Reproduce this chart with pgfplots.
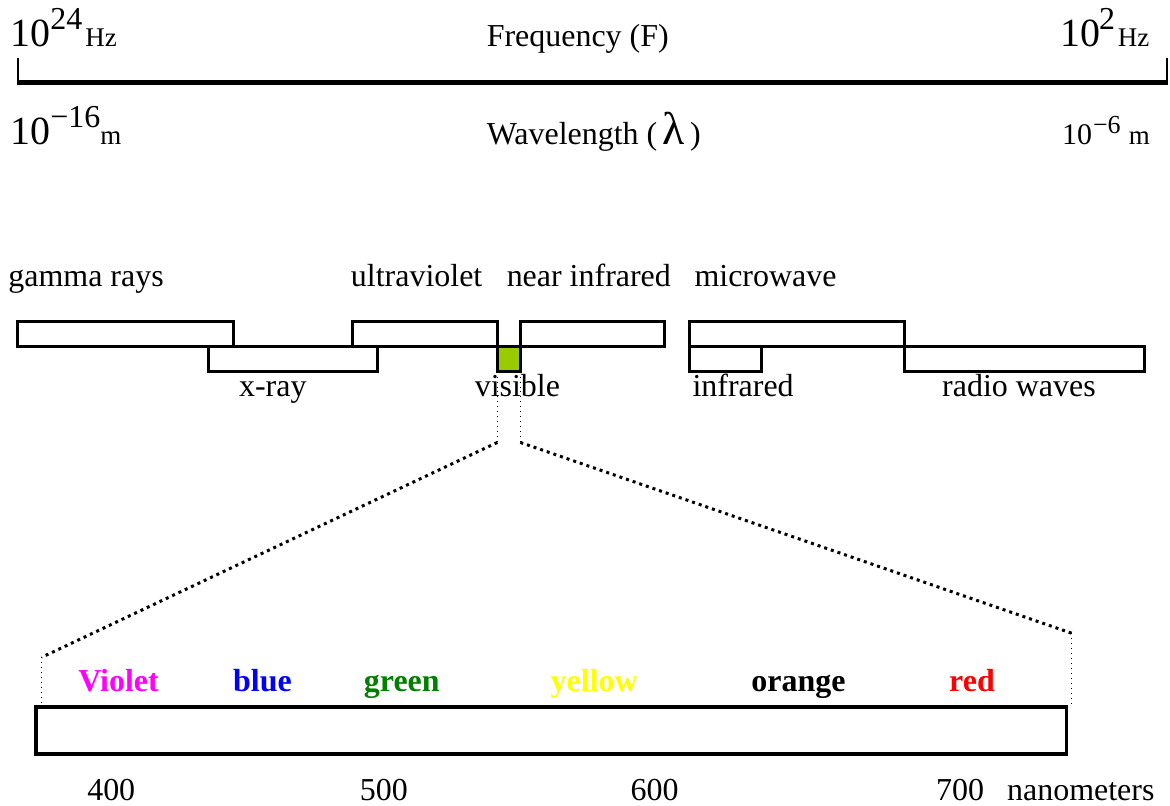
\documentclass[border=0pt]{standalone}
\usepackage{pgfplots}
\pgfplotsset{compat=1.18}
\usepackage{fontspec}
\setmainfont{Liberation Serif}
\definecolor{visgreen}{HTML}{99CC00}
\definecolor{lblviolet}{HTML}{FF00FF}
\definecolor{lblblue}{HTML}{0000FF}
\definecolor{lblgreen}{HTML}{008000}
\definecolor{lblyellow}{HTML}{FFFF00}
\definecolor{lblred}{HTML}{FF0000}
\newcommand{\fs}[1]{\fontsize{#1}{#1}\selectfont}
\begin{document}
\begin{tikzpicture}[every node/.style={inner sep=0pt, font=\fs{16}}]
\begin{axis}[width=585pt, height=403.5pt, scale only axis,
  xmin=0, xmax=1170, ymin=0, ymax=807, y dir=reverse,
  hide axis, clip=false]
% frame of the picture (invisible)
\addplot[draw=none] coordinates {(0,0) (1170,807)};
% top scale line
\addplot[black, line width=2.5pt] coordinates {(17,82.5) (1169,82.5)};
\addplot[black, line width=1pt] coordinates {(18,58) (18,82)};
\addplot[black, line width=1pt] coordinates {(1168,58) (1168,82)};
% spectrum boxes
\addplot[black, line width=1.5pt] coordinates {(18,322) (234,322) (234,347) (18,347) (18,322)} -- cycle;
\addplot[black, line width=1.5pt] coordinates {(209,347) (378,347) (378,372) (209,372) (209,347)} -- cycle;
\addplot[black, line width=1.5pt] coordinates {(353,322) (498,322) (498,347) (353,347) (353,322)} -- cycle;
\addplot[black, fill=visgreen, line width=1.5pt] coordinates {(498,347) (521,347) (521,372) (498,372) (498,347)} -- cycle;
\addplot[black, line width=1.5pt] coordinates {(521,322) (665,322) (665,347) (521,347) (521,322)} -- cycle;
\addplot[black, line width=1.5pt] coordinates {(690,322) (906,322) (906,347) (690,347) (690,322)} -- cycle;
\addplot[black, line width=1.5pt] coordinates {(690,347) (762,347) (762,372) (690,372) (690,347)} -- cycle;
\addplot[black, line width=1.5pt] coordinates {(906,347) (1146,347) (1146,372) (906,372) (906,347)} -- cycle;
% zoom dotted lines
\addplot[black, line width=0.5pt, dotted] coordinates {(498,372) (498,443)};
\addplot[black, line width=0.5pt, dotted] coordinates {(521,372) (521,443)};
\addplot[black, line width=1.5pt, dash pattern=on 1.5pt off 2pt] coordinates {(498,443) (42,658)};
\addplot[black, line width=1.5pt, dash pattern=on 1.5pt off 2pt] coordinates {(521,443) (1073,634)};
\addplot[black, line width=0.5pt, dotted] coordinates {(42,658) (42,705)};
\addplot[black, line width=0.5pt, dotted] coordinates {(1073,634) (1073,705)};
% visible band
\addplot[black, line width=1.75pt] coordinates {(36,708) (1068,708) (1068,755) (36,755) (36,708)} -- cycle;
% top texts
\node[anchor=base west, font=\fs{20}] at (axis cs:10,47) {10};
\node[anchor=base west] at (axis cs:50,30) {24};
\node[anchor=base west, font=\fs{13.5}] at (axis cs:85,47) {Hz};
\node[anchor=base west] at (axis cs:487,47) {Frequency (F)};
\node[anchor=base west, font=\fs{20}] at (axis cs:1061,47) {10};
\node[anchor=base west] at (axis cs:1100,30) {2};
\node[anchor=base west, font=\fs{13.5}] at (axis cs:1119,47) {Hz};
\node[anchor=base west, font=\fs{20}] at (axis cs:10,145) {10};
\node[anchor=base west] at (axis cs:50,128) {−16};
\node[anchor=base west, font=\fs{13.5}] at (axis cs:100,145) {m};
\node[anchor=base west] at (axis cs:487,145) {Wavelength (\,{\fs{23}λ}\,)};
\node[anchor=base west, font=\fs{15}] at (axis cs:1063,145) {10};
\node[anchor=base west, font=\fs{13}] at (axis cs:1094,134) {−6};
\node[anchor=base west, font=\fs{13.5}] at (axis cs:1130,145) {m};
% band labels
\node[anchor=base west] at (axis cs:8,287) {gamma rays};
\node[anchor=base west] at (axis cs:351,287) {ultraviolet};
\node[anchor=base west] at (axis cs:507,287) {near infrared};
\node[anchor=base west] at (axis cs:695,287) {microwave};
\node[anchor=base west] at (axis cs:239,397) {x-ray};
\node[anchor=base west] at (axis cs:475,397) {visible};
\node[anchor=base west] at (axis cs:693,397) {infrared};
\node[anchor=base west] at (axis cs:943,397) {radio waves};
% colour labels
\node[anchor=base west, font=\fs{16}\bfseries, text=lblviolet] at (axis cs:78,692) {Violet};
\node[anchor=base west, font=\fs{16}\bfseries, text=lblblue] at (axis cs:233,692) {blue};
\node[anchor=base west, font=\fs{16}\bfseries, text=lblgreen] at (axis cs:364,692) {green};
\node[anchor=base west, font=\fs{16}\bfseries, text=lblyellow] at (axis cs:551,692) {yellow};
\node[anchor=base west, font=\fs{16}\bfseries, text=black] at (axis cs:752,692) {orange};
\node[anchor=base west, font=\fs{16}\bfseries, text=lblred] at (axis cs:950,692) {red};
% wavelengths
\node[anchor=base west] at (axis cs:87,802) {400};
\node[anchor=base west] at (axis cs:360,802) {500};
\node[anchor=base west] at (axis cs:631,802) {600};
\node[anchor=base west] at (axis cs:937,802) {700};
\node[anchor=base west] at (axis cs:1008,802) {nanometers};
\end{axis}
\end{tikzpicture}
\end{document}
